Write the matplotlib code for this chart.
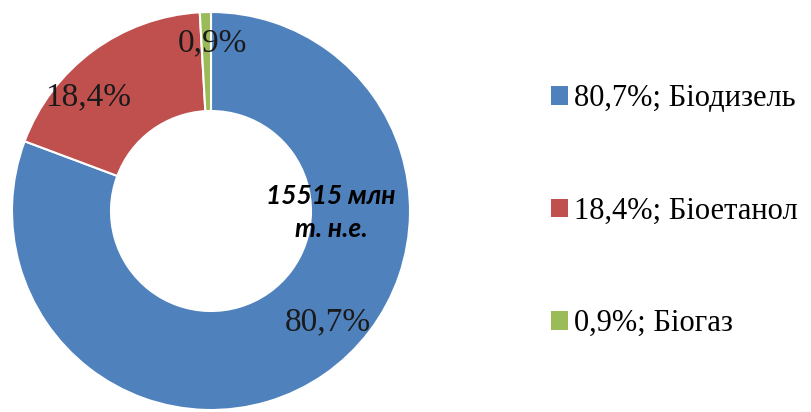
import matplotlib.pyplot as plt
from matplotlib.patches import Patch

# Дані
categories = ["Біодизель", "Біоетанол", "Біогаз"]
shares = [80.7, 18.4, 0.9]
colors = ["#4F81BD", "#C0504D", "#9BBB59"]
total_text = "15515 млн\nт. н.е."

def fmt(v):
    return f"{v:.1f}".replace(".", ",") + "%"

H = 412
fig = plt.figure(figsize=(8.11, 4.12), dpi=100)
ax = fig.add_axes([0, 0, 1, 1])

wedges, _ = ax.pie(shares, colors=colors, startangle=90, counterclock=False,
                   center=(211, H - 211), radius=199, frame=True,
                   wedgeprops=dict(width=99, edgecolor="white", linewidth=1.5))
ax.set_xlim(0, 811)
ax.set_ylim(0, H)
ax.axis("off")

# підписи частин (позиції в пікселях від верхнього краю)
label_pos = [(328, 322), (88, 97), (212, 43)]
for v, (x, y) in zip(shares, label_pos):
    ax.text(x, H - y, fmt(v), ha="center", va="center", fontsize=24,
            family="Liberation Serif", color="#1a1a1a")

ax.text(331, H - 212, total_text, ha="center", va="center", fontsize=19,
        fontweight="bold", fontstyle="italic", family="Lato",
        linespacing=1.45)

handles = [Patch(facecolor=c, edgecolor="none") for c in colors]
labels = [f"{fmt(v)}; {c}" for v, c in zip(shares, categories)]
fig.legend(handles, labels, loc="center left", bbox_to_anchor=(0.661, 0.487),
           frameon=False, prop={"family": "Liberation Serif", "size": 22},
           labelspacing=2.73, handlelength=0.55, handleheight=0.55,
           handletextpad=0.2, borderpad=0)

fig.savefig("out.png", dpi=100)
